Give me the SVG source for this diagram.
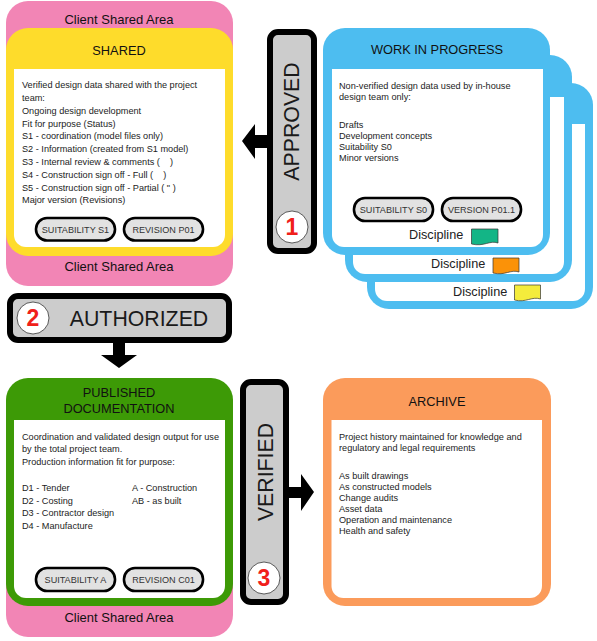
<svg xmlns="http://www.w3.org/2000/svg" width="597" height="641" viewBox="0 0 597 641">
<style>
text{font-family:"Liberation Sans",Arial,sans-serif;fill:#1c1c1c}
.b{font-size:9.17px}
.t{font-size:12.8px;text-anchor:middle;fill:#111}
.c{font-size:13px;text-anchor:middle;fill:#111}
.p{font-size:9.1px;text-anchor:middle;fill:#333}
.pill{fill:#e2e2e2;stroke:#000;stroke-width:2.6}
.badge{fill:#cccccc;stroke:#000;stroke-width:6}
.lab{font-size:21.3px;text-anchor:middle;fill:#1a1a1a}
.num{fill:#fff;stroke:#333;stroke-width:.8}
.n{font-size:23px;font-weight:bold;text-anchor:middle;fill:#f0201a}
.d{font-size:12.7px;fill:#222}
.w{fill:#fff}
.bl{fill:#4dbdf0}
.flag{stroke:#333;stroke-width:.7}
</style>
<g id="shared-area">
<rect x="6" y="1" width="227" height="285" rx="22" fill="#f285b5"/>
<text class="c" x="119" y="24">Client Shared Area</text>
<text class="c" x="119" y="271">Client Shared Area</text>
</g>
<g id="shared">
<rect x="6" y="28" width="227" height="228" rx="22" fill="#fedc2b"/>
<path class="w" d="M14 69H225V235a12 12 0 0 1-12 12H26a12 12 0 0 1-12-12Z"/>
<text class="t" x="119" y="55">SHARED</text>
<text class="b" x="22" y="88">Verified design data shared with the project</text>
<text class="b" x="22" y="101">team:</text>
<text class="b" x="22" y="113.500">Ongoing design development</text>
<text class="b" x="22" y="126.500">Fit for purpose (Status)</text>
<text class="b" x="22" y="139">S1 - coordination (model files only)</text>
<text class="b" x="22" y="152">S2 - Information (created from S1 model)</text>
<text class="b" x="22" y="165">S3 - Internal review &amp; comments (&#160;&#160;&#160;&#160;)</text>
<text class="b" x="22" y="177.500">S4 - Construction sign off - Full (&#160;&#160;&#160;&#160;)</text>
<text class="b" x="22" y="190.500">S5 - Construction sign off - Partial ( " )</text>
<text class="b" x="22" y="203">Major version (Revisions)</text>
<rect class="pill" x="36" y="218" width="79" height="22.500" rx="11"/>
<text class="p" x="75.500" y="233">SUITABILITY S1</text>
<rect class="pill" x="124" y="218" width="79" height="22.500" rx="11"/>
<text class="p" x="163.500" y="233">REVISION P01</text>
</g>
<g id="wip-3">
<rect class="bl" x="367" y="83" width="226" height="226" rx="22"/>
<path class="w" d="M375 124H585V289a12 12 0 0 1-12 12H387a12 12 0 0 1-12-12Z"/>
<text class="d" x="453" y="296">Discipline</text>
<path class="flag" fill="#f4ec3c" d="M514.500 285H540.500V299C532 296 526 303 514.500 300Z"/>
</g>
<g id="wip-2">
<rect class="bl" x="345" y="55" width="227" height="227" rx="22"/>
<path class="w" d="M353 97H564V262a12 12 0 0 1-12 12H365a12 12 0 0 1-12-12Z"/>
<text class="d" x="431" y="268">Discipline</text>
<path class="flag" fill="#fb9208" d="M493 258H519V272C511 269 505 276 493 273Z"/>
</g>
<g id="wip-1">
<rect class="bl" x="323" y="28" width="227" height="227" rx="22"/>
<path class="w" d="M332 69H543V235a12 12 0 0 1-12 12H344a12 12 0 0 1-12-12Z"/>
<text class="t" x="437" y="54">WORK IN PROGRESS</text>
<text class="b" x="339" y="88.500">Non-verified design data used by in-house</text>
<text class="b" x="339" y="99.500">design team only:</text>
<text class="b" x="339" y="127.500">Drafts</text>
<text class="b" x="339" y="138.500">Development concepts</text>
<text class="b" x="339" y="149.500">Suitability S0</text>
<text class="b" x="339" y="160.500">Minor versions</text>
<rect class="pill" x="354" y="198" width="79" height="23" rx="11"/>
<text class="p" x="393.500" y="213">SUITABILITY S0</text>
<rect class="pill" x="442" y="198" width="79" height="23" rx="11"/>
<text class="p" x="481.500" y="213">VERSION P01.1</text>
<text class="d" x="409" y="239">Discipline</text>
<path class="flag" fill="#13b586" d="M471.500 229H498V243C490 240 484 247 471.500 244Z"/>
</g>
<g id="connectors" fill="#000">
<path d="M268 135H255V124L242 141L255 159V148H268Z"/>
<path d="M113 343V355H101L119 368L137 355H125V343Z"/>
<path d="M289 487H301V474L314 492L301 511V498H289Z"/>
</g>
<g id="approved">
<rect class="badge" x="270" y="32" width="44" height="219" rx="8"/>
<text class="lab" transform="translate(299 121.500) rotate(-90)">APPROVED</text>
<circle class="num" cx="292" cy="227" r="16"/>
<text class="n" x="292" y="235">1</text>
</g>
<g id="authorized">
<rect class="badge" x="10" y="296" width="219" height="44" rx="8"/>
<text class="lab" x="139" y="326">AUTHORIZED</text>
<circle class="num" cx="33" cy="318" r="16"/>
<text class="n" x="33" y="326">2</text>
</g>
<g id="client-area-bottom">
<path d="M6 400H233V615a22 22 0 0 1-22 22H28a22 22 0 0 1-22-22Z" fill="#f285b5"/>
<text class="c" x="119" y="622">Client Shared Area</text>
</g>
<g id="published">
<rect x="6" y="378" width="227" height="228" rx="22" fill="#3d9a06"/>
<path class="w" d="M14 420H225V586a12 12 0 0 1-12 12H26a12 12 0 0 1-12-12Z"/>
<text class="t" x="119" y="397">PUBLISHED</text>
<text class="t" x="119" y="413">DOCUMENTATION</text>
<text class="b" x="22" y="439.500">Coordination and validated design output for use</text>
<text class="b" x="22" y="452">by the total project team.</text>
<text class="b" x="22" y="465">Production information fit for purpose:</text>
<text class="b" x="22" y="490.500">D1 - Tender</text>
<text class="b" x="22" y="503.500">D2 - Costing</text>
<text class="b" x="22" y="516">D3 - Contractor design</text>
<text class="b" x="22" y="529">D4 - Manufacture</text>
<text class="b" x="132" y="490.500">A - Construction</text>
<text class="b" x="132" y="503.500">AB - as built</text>
<rect class="pill" x="36" y="568" width="79" height="23" rx="11"/>
<text class="p" x="75.500" y="583">SUITABILITY A</text>
<rect class="pill" x="124" y="568" width="79" height="23" rx="11"/>
<text class="p" x="163.500" y="583">REVISION C01</text>
</g>
<g id="verified">
<rect class="badge" x="243" y="382" width="43" height="220" rx="8"/>
<text class="lab" transform="translate(272.500 472) rotate(-90)">VERIFIED</text>
<circle class="num" cx="264" cy="578" r="16"/>
<text class="n" x="264" y="586">3</text>
</g>
<g id="archive">
<rect x="323" y="378" width="228" height="228" rx="22" fill="#fb9b5b"/>
<path class="w" d="M331.500 420H542V586a12 12 0 0 1-12 12H343.500a12 12 0 0 1-12-12Z"/>
<text class="t" x="437" y="406">ARCHIVE</text>
<text class="b" x="339" y="439.500">Project history maintained for knowledge and</text>
<text class="b" x="339" y="450.500">regulatory and legal requirements</text>
<text class="b" x="339" y="478.500">As built drawings</text>
<text class="b" x="339" y="489.500">As constructed models</text>
<text class="b" x="339" y="500.500">Change audits</text>
<text class="b" x="339" y="511.500">Asset data</text>
<text class="b" x="339" y="522.500">Operation and maintenance</text>
<text class="b" x="339" y="533.500">Health and safety</text>
</g>
</svg>
